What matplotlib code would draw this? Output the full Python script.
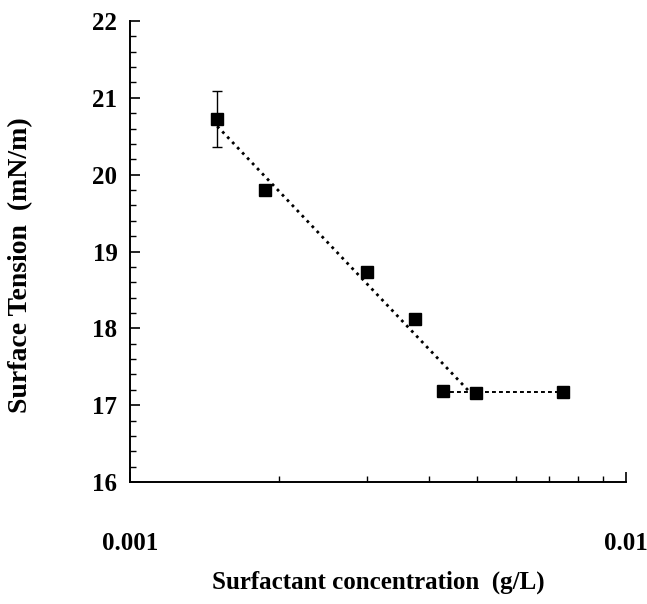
import matplotlib
matplotlib.use("Agg")
import matplotlib.pyplot as plt
from matplotlib.ticker import FixedLocator, NullFormatter, FixedFormatter

plt.rcParams['font.family'] = ['Liberation Serif', 'DejaVu Serif']

conc = [0.0015, 0.00187, 0.0030, 0.00375, 0.00428, 0.00499, 0.00748]
tension = [20.72, 19.80, 18.73, 18.12, 17.19, 17.16, 17.17]
err = [0.365, 0, 0, 0, 0, 0, 0]

fit_x = [0.0015, 0.00496]
fit_y = [20.63, 17.10]
plateau_x = [0.00428, 0.00748]
plateau_y = [17.17, 17.17]

fig = plt.figure(figsize=(6.47, 6.04), dpi=100)
ax = fig.add_axes([0.2009, 0.2020, 0.7666, 0.7632])

ax.plot(fit_x, fit_y, color='black', linestyle=(0, (1, 1.6)), linewidth=2.0)
ax.plot(plateau_x, plateau_y, color='black', linestyle=(0, (2, 1.6)), linewidth=1.4)
ax.errorbar(conc[:1], tension[:1], yerr=err[:1], fmt='none', ecolor='black',
            elinewidth=1.0, capsize=3.5, capthick=1.0)
ax.plot(conc, tension, linestyle='none', marker='s', markersize=9,
        markerfacecolor='black', markeredgecolor='black')

ax.set_xscale('log')
ax.set_xlim(0.001, 0.01)
ax.set_ylim(16, 22)

ax.spines['top'].set_visible(False)
ax.spines['right'].set_visible(False)
ax.spines['left'].set_linewidth(1.4)
ax.spines['bottom'].set_linewidth(1.4)

ax.xaxis.set_major_locator(FixedLocator([0.001, 0.01]))
ax.xaxis.set_major_formatter(FixedFormatter(['0.001', '0.01']))
ax.xaxis.set_minor_locator(FixedLocator([k * 0.001 for k in range(2, 10)]))
ax.xaxis.set_minor_formatter(NullFormatter())
ax.set_yticks([16, 17, 18, 19, 20, 21, 22])
ax.yaxis.set_minor_locator(FixedLocator([16 + 0.2 * i for i in range(31)]))

ax.tick_params(axis='both', which='major', direction='in', length=7, width=1.2,
               labelsize=18)
ax.tick_params(axis='both', which='minor', direction='in', length=4, width=1.0)
ax.tick_params(axis='x', which='major', pad=36)
ax.tick_params(axis='y', which='major', pad=9)
for lbl in ax.get_xticklabels() + ax.get_yticklabels():
    lbl.set_fontweight('bold')

ax.set_xlabel('Surfactant concentration  (g/L)', fontsize=18, fontweight='bold')
ax.set_ylabel('Surface Tension  (mN/m)', fontsize=20, fontweight='bold')
ax.xaxis.set_label_coords(0.5, -0.193)
ax.yaxis.set_label_coords(-0.196, 0.47)

fig.savefig('out.png', dpi=100)
